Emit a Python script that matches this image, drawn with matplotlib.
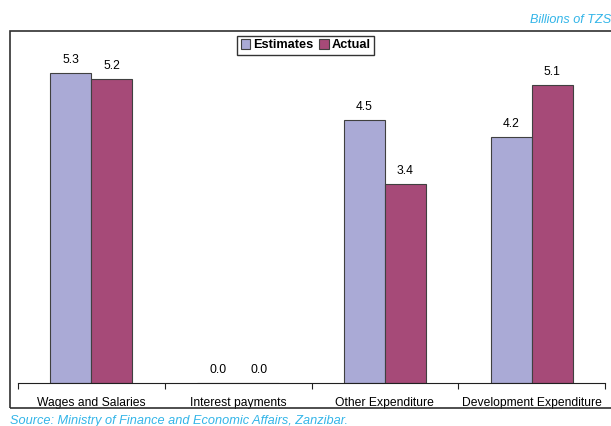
import numpy as np
import matplotlib
matplotlib.use('Agg')
from matplotlib import pyplot as plt
from matplotlib.patches import Rectangle

categories = ['Wages and Salaries', 'Interest payments', 'Other Expenditure', 'Development Expenditure']
estimates = [5.3, 0.0, 4.5, 4.2]
actual = [5.2, 0.0, 3.4, 5.1]

plt.rcParams['font.family'] = ['Liberation Sans', 'DejaVu Sans']

fig = plt.figure(figsize=(6.11, 4.26), dpi=100)
ax = fig.add_axes([18/611, 1 - 383/426, 587/611, 348/426])

x = np.arange(len(categories))
w = 0.28
b1 = ax.bar(x - w/2, estimates, w, color='#aaaad6', edgecolor='#404040', linewidth=0.8, label='Estimates')
b2 = ax.bar(x + w/2, actual, w, color='#a64a78', edgecolor='#404040', linewidth=0.8, label='Actual')

for bars, vals in [(b1, estimates), (b2, actual)]:
    for r, v in zip(bars, vals):
        ax.text(r.get_x() + r.get_width()/2, v + 0.12, '%.1f' % v,
                ha='center', va='bottom', fontsize=8.7)

ax.set_xlim(-0.5, len(categories) - 0.5)
ax.set_ylim(0, 5.95)
ax.set_yticks([])
for s in ['top', 'right', 'left']:
    ax.spines[s].set_visible(False)
ax.spines['bottom'].set_color('#202020')
ax.set_xticks(np.arange(len(categories) + 1) - 0.5)
ax.set_xticklabels([])
ax.tick_params(axis='x', length=4, color='#202020')
for i, c in enumerate(categories):
    ax.text(i, -0.24, c, ha='center', va='top', fontsize=8.7)

leg = ax.legend(loc='upper center', bbox_to_anchor=(0.5, 1 - 36/426), bbox_transform=fig.transFigure,
                ncol=2, frameon=True, fancybox=False, edgecolor='black',
                prop={'weight': 'bold', 'size': 9.2},
                handlelength=0.75, handleheight=0.75, handletextpad=0.2,
                columnspacing=0.5, borderpad=0.25, borderaxespad=0.0)
leg.get_frame().set_linewidth(1.0)

fig.patches.append(Rectangle((10/611, 1 - 408/426), 1.0, 377/426, transform=fig.transFigure,
                             fill=False, edgecolor='#303030', linewidth=1.2))

fig.text(611/611, 1 - 20/426, 'Billions of TZS', ha='right', va='center',
         fontsize=9.1, style='italic', color='#33b5e8')
fig.text(10/611, 1 - 421/426, 'Source: Ministry of Finance and Economic Affairs, Zanzibar.',
         ha='left', va='center', fontsize=9.2, style='italic', color='#33b5e8')

fig.savefig('out.png', dpi=100)
